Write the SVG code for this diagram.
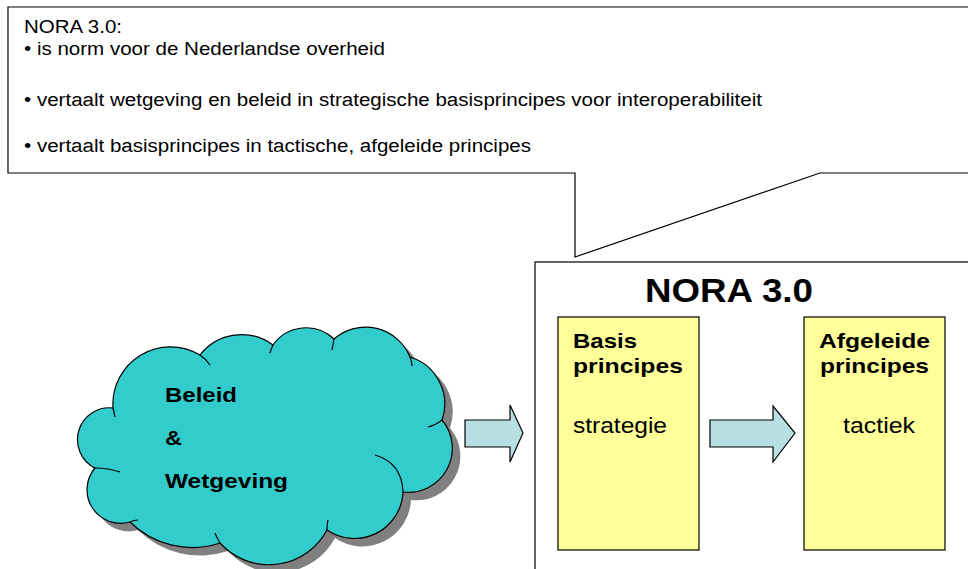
<svg xmlns="http://www.w3.org/2000/svg" width="968" height="569" viewBox="0 0 968 569">
<style>
.t{font-family:"Liberation Sans",Arial,sans-serif;fill:#000}
.b{font-weight:bold}
.ln{fill:none;stroke:#000;stroke-width:1.2}
.blk{fill:#B8E0E3;stroke:#000;stroke-width:1.2}
.yel{fill:#FFFF99;stroke:#000;stroke-width:1.2}
</style>
<defs>
<path id="cloudShape" d="M113,408 A57.5,57.5 0 0 1 200,355 A52.6,52.6 0 0 1 273,345 A40.4,40.4 0 0 1 334,339 A48,48 0 0 1 410,357 A49,49 0 0 1 442,420 A44,44 0 0 1 403,492 A48.6,48.6 0 0 1 327,530 A65.9,65.9 0 0 1 220,543 A88.6,88.6 0 0 1 130,522 A33.6,33.6 0 0 1 95,468 A31.8,31.8 0 0 1 113,408 Z"/>
</defs>
<rect width="968" height="569" fill="#fff"/>

<g id="callout">
<path d="M8,7 H975 V173 H820 L575,257 V173 H8 Z" fill="#fff" stroke="#000" stroke-width="1.2"/>
<text class="t" x="24" y="33" font-size="18" textLength="98" lengthAdjust="spacingAndGlyphs">NORA 3.0:</text>
<text class="t" x="24" y="55" font-size="18" textLength="361" lengthAdjust="spacingAndGlyphs">• is norm voor de Nederlandse overheid</text>
<text class="t" x="24" y="106" font-size="18" textLength="738" lengthAdjust="spacingAndGlyphs">• vertaalt wetgeving en beleid in strategische basisprincipes voor interoperabiliteit</text>
<text class="t" x="24" y="152" font-size="18" textLength="507" lengthAdjust="spacingAndGlyphs">• vertaalt basisprincipes in tactische, afgeleide principes</text>
</g>

<g id="cloud">
<use href="#cloudShape" transform="translate(8,8)" fill="#808080"/>
<use href="#cloudShape" fill="#33CCCC" stroke="#000" stroke-width="1.2"/>
<path class="ln" d="M200,355 Q206,359 210,365 M273,345 Q271,349 270,353 M334,339 Q333,345 332,350 M410,357 Q412,361 412,366 M442,420 Q436,425 428,427 M403,492 Q402,463 375,455 M327,530 Q327,524 328,520 M220,543 Q217,538 215,533 M130,522 Q134,520 138,520 M95,468 Q108,468 120,472 M113,408 Q114,412 115,417"/>
<text class="t b" x="165" y="402" font-size="21" textLength="72" lengthAdjust="spacingAndGlyphs">Beleid</text>
<text class="t b" x="165" y="445" font-size="21" textLength="17" lengthAdjust="spacingAndGlyphs">&amp;</text>
<text class="t b" x="165" y="488" font-size="21" textLength="123" lengthAdjust="spacingAndGlyphs">Wetgeving</text>
</g>

<g id="nora">
<rect x="535" y="262" width="450" height="320" fill="#fff" stroke="#000" stroke-width="1.2"/>
<text class="t b" x="645" y="302" font-size="34" textLength="168" lengthAdjust="spacingAndGlyphs">NORA 3.0</text>
</g>

<g id="basis">
<rect class="yel" x="558" y="317" width="141" height="233"/>
<text class="t b" x="573" y="348" font-size="21" textLength="64" lengthAdjust="spacingAndGlyphs">Basis</text>
<text class="t b" x="573" y="373" font-size="21" textLength="110" lengthAdjust="spacingAndGlyphs">principes</text>
<text class="t" x="573" y="433" font-size="22" textLength="94" lengthAdjust="spacingAndGlyphs">strategie</text>
</g>

<g id="afgeleide">
<rect class="yel" x="804" y="317" width="141" height="233"/>
<text class="t b" x="819" y="348" font-size="21" textLength="111" lengthAdjust="spacingAndGlyphs">Afgeleide</text>
<text class="t b" x="820" y="373" font-size="21" textLength="109" lengthAdjust="spacingAndGlyphs">principes</text>
<text class="t" x="843" y="433" font-size="22" textLength="72" lengthAdjust="spacingAndGlyphs">tactiek</text>
</g>

<g id="connectors">
<path class="blk" d="M465,420 H510 V405 L523,433 L510,462 V447 H465 Z"/>
<path class="blk" d="M710,420 H773 V406 L795,433 L773,462 V447 H710 Z"/>
</g>
</svg>
